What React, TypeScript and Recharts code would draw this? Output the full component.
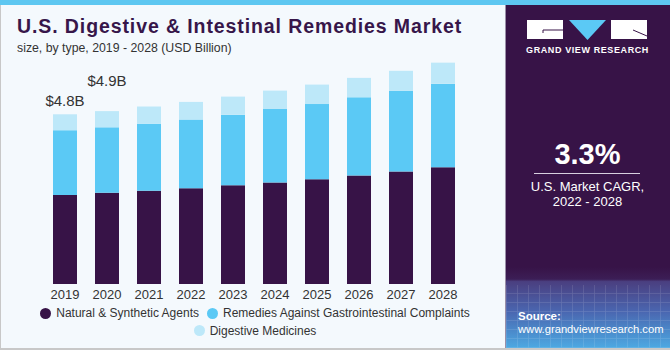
import React from 'react';
import { BarChart, Bar, XAxis, YAxis, LabelList } from 'recharts';

const years = ['2019', '2020', '2021', '2022', '2023', '2024', '2025', '2026', '2027', '2028'];
const natural = [2.52, 2.58, 2.64, 2.71, 2.79, 2.87, 2.96, 3.07, 3.18, 3.30];
const remedies = [1.83, 1.85, 1.89, 1.94, 2.0, 2.08, 2.13, 2.21, 2.28, 2.36];
const digestive = [0.45, 0.46, 0.49, 0.5, 0.51, 0.52, 0.55, 0.55, 0.57, 0.6];
const totalLabels = ['$4.8B', '$4.9B', '', '', '', '', '', '', '', ''];
const seriesNames = ['Natural & Synthetic Agents', 'Remedies Against Gastrointestinal Complaints', 'Digestive Medicines'];
const COLORS = ['#371347', '#5bc9f5', '#bde8f9'];

const data = years.map((y, i) => ({
  year: y,
  natural: natural[i],
  remedies: remedies[i],
  digestive: digestive[i],
  label: totalLabels[i],
}));

const FONT = '"Liberation Sans", Arial, sans-serif';

const labelOffsets = [14, 31];

const TopLabel = (props: any) => {
  const { x, y, width, value, index } = props;
  if (!value) return null;
  const off = labelOffsets[index] ?? 14;
  return (
    <text x={x + width / 2} y={y - off} textAnchor="middle" dominantBaseline="central" fontSize={15} fill="#333" fontFamily={FONT}>
      {value}
    </text>
  );
};

const LegendItem = ({ i }: { i: number }) => (
  <span style={{ display: 'inline-flex', alignItems: 'center', margin: '0 4px' }}>
    <span style={{ width: 11, height: 11, borderRadius: '50%', background: COLORS[i], display: 'inline-block', marginRight: 5 }} />
    <span>{seriesNames[i]}</span>
  </span>
);

export default function App() {
  return (
    <div style={{ position: 'absolute', left: 0, top: 0, width: 670, height: 350, background: '#f4f9fd', overflow: 'hidden', fontFamily: FONT }}>
      <div style={{ position: 'absolute', left: 0, top: 0, width: 670, height: 5, background: '#5ec7f1' }} />
      <div style={{ position: 'absolute', left: 0, top: 5, width: 1, height: 345, background: '#c8c8c8' }} />
      <div style={{ position: 'absolute', left: 0, top: 348, width: 670, height: 2, background: '#c8c8c8' }} />

      <div style={{ position: 'absolute', left: 17, top: 15, fontSize: 19.5, fontWeight: 'bold', color: '#37164a', whiteSpace: 'nowrap', letterSpacing: 0.9 }}>
        U.S. Digestive &amp; Intestinal Remedies Market
      </div>
      <div style={{ position: 'absolute', left: 17, top: 41, fontSize: 12.3, color: '#333', whiteSpace: 'nowrap' }}>
        size, by type, 2019 - 2028 (USD Billion)
      </div>

      <div style={{ position: 'absolute', left: 0, top: 0 }}>
        <BarChart width={510} height={350} data={data} margin={{ top: 36.5, right: 46, left: 44, bottom: 46 }}>
          <XAxis dataKey="year" axisLine={false} tickLine={false} tickMargin={0} height={20} interval={0}
            tick={{ fontSize: 13, fill: '#333', fontFamily: FONT }} />
          <YAxis hide domain={[0, 7]} />
          <Bar dataKey="natural" name={seriesNames[0]} stackId="a" fill={COLORS[0]} barSize={24} isAnimationActive={false} />
          <Bar dataKey="remedies" name={seriesNames[1]} stackId="a" fill={COLORS[1]} barSize={24} isAnimationActive={false} />
          <Bar dataKey="digestive" name={seriesNames[2]} stackId="a" fill={COLORS[2]} barSize={24} isAnimationActive={false}>
            <LabelList dataKey="label" content={<TopLabel />} />
          </Bar>
        </BarChart>
      </div>

      <div style={{ position: 'absolute', left: 0, top: 305, width: 510, fontSize: 12, color: '#333', textAlign: 'center', lineHeight: '16px' }}>
        <div><LegendItem i={0} /><LegendItem i={1} /></div>
        <div><LegendItem i={2} /></div>
      </div>

      <div style={{ position: 'absolute', left: 505, top: 5, width: 165, height: 343, background: '#371347', borderLeft: '1px solid #9a8fa8' }}>
        <div style={{ position: 'absolute', left: 0, top: 262, width: 165, height: 81,
          background: 'linear-gradient(to bottom, #371347 0%, #3c1e56 15%, #4a3f80 18%, #4a66b0 55%, #4ca9e2 100%)' }} />
        <div style={{ position: 'absolute', left: 0, top: 280, width: 165, height: 63, opacity: 0.15,
          backgroundImage: 'repeating-linear-gradient(90deg, rgba(255,255,255,0.7) 0 1px, transparent 1px 11px), repeating-linear-gradient(0deg, rgba(255,255,255,0.7) 0 1px, transparent 1px 9px)' }} />
      </div>

      <svg style={{ position: 'absolute', left: 0, top: 0 }} width={670} height={350}>
        <rect x={527} y={20} width={36} height={19} fill="#fff" />
        <polyline points="563,30 543,30 543,33" fill="none" stroke="#371347" strokeWidth={1} />
        <polygon points="569,20 606,20 587.5,40" fill="#5bc9f5" />
        <rect x={611} y={20} width={36} height={19} fill="#fff" />
        <line x1={633} y1={30} x2={647} y2={36} stroke="#371347" strokeWidth={1} />
        <line x1={534} y1={173.5} x2={640} y2={173.5} stroke="#d8d0e0" strokeWidth={1.2} />
      </svg>

      <div style={{ position: 'absolute', left: 505, top: 45, width: 165, textAlign: 'center', fontSize: 9, fontWeight: 'bold', color: '#fff', letterSpacing: 0.6 }}>
        GRAND VIEW RESEARCH
      </div>
      <div style={{ position: 'absolute', left: 505, top: 138, width: 165, textAlign: 'center', fontSize: 29, fontWeight: 'bold', color: '#fff' }}>
        3.3%
      </div>
      <div style={{ position: 'absolute', left: 505, top: 179, width: 165, textAlign: 'center', fontSize: 13, color: '#fff', lineHeight: '15px' }}>
        U.S. Market CAGR,<br />2022 - 2028
      </div>
      <div style={{ position: 'absolute', left: 518, top: 310, fontSize: 11.5, fontWeight: 'bold', color: '#fff' }}>Source:</div>
      <div style={{ position: 'absolute', left: 518, top: 323, fontSize: 11.2, color: '#fff', whiteSpace: 'nowrap' }}>www.grandviewresearch.com</div>
    </div>
  );
}
